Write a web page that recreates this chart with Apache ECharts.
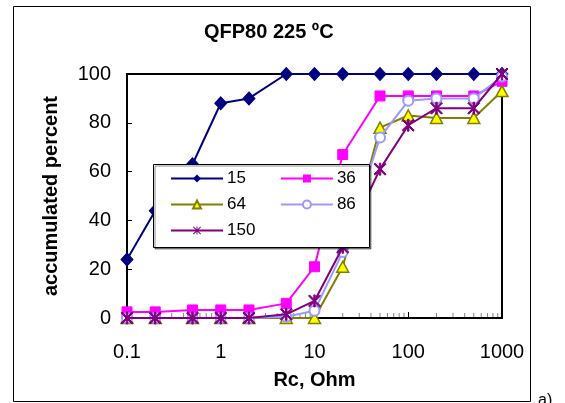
<!DOCTYPE html>
<html>
<head>
<meta charset="utf-8">
<script src="https://cdn.jsdelivr.net/npm/echarts@6/dist/echarts.min.js"></script>
<style>
html,body{margin:0;padding:0;background:#fff;}
#c{width:565px;height:403px;}
</style>
</head>
<body>
<div id="c"></div>
<script>
// ---- data ----
var rc = [0.1, 0.2, 0.5, 1, 2, 5, 10, 20, 50, 100, 200, 500, 1000];
var s15  = [24, 44, 63, 88, 90, 100, 100, 100, 100, 100, 100, 100, 100];
var s36  = [2.5, 2.5, 3.3, 3.3, 3.3, 6, 21, 67, 91, 91, 91, 91, 97];
var s64  = [0, 0, 0, 0, 0, 0, 0, 21, 78, 83, 82, 82, 93];
var s86  = [0, 0, 0, 0, 0, 0.5, 3, 27, 74, 89, 90, 90, 99];
var s150 = [0, 0, 0, 0, 0, 1.5, 7, 29, 61, 79, 86, 86, 100];
var seriesNames = ['15', '36', '64', '86', '150'];
var yTicks = [0, 20, 40, 60, 80, 100];
var xTickLabels = [0.1, 1, 10, 100, 1000];
var xMinorTicks = [0.2,0.3,0.4,0.5,0.6,0.7,0.8,0.9,
                   2,3,4,5,6,7,8,9,
                   20,30,40,50,60,70,80,90,
                   200,300,400,500,600,700,800,900];

var FONT = 'Liberation Sans, Arial, sans-serif';
function pairs(vals){ return rc.map(function(x,i){ return [x, vals[i]]; }); }

var asterisk = 'path://M4.4,0h1.2v10h-1.2z M0,0.85 L0.85,0 L10,9.15 L9.15,10z M9.15,0 L10,0.85 L0.85,10 L0,9.15z';

var chart = echarts.init(document.getElementById('c'), null, {renderer:'canvas'});
var option = {
  backgroundColor: '#fff',
  animation: false,
  title: {
    text: 'QFP80 225 ºC',
    left: 204, top: 22,
    padding: 0,
    textStyle: {fontFamily: FONT, fontSize: 20, fontWeight: 'bold', color: '#000'}
  },
  grid: {
    left: 127, right: 63, top: 74, bottom: 85,
    show: true, borderColor: '#000', borderWidth: 2, backgroundColor: 'transparent'
  },
  xAxis: [{
    type: 'log', logBase: 10, min: 0.1, max: 1000,
    name: 'Rc, Ohm', nameLocation: 'middle', nameGap: 52,
    nameTextStyle: {fontFamily: FONT, fontSize: 20, fontWeight: 'bold', color: '#000'},
    axisLine: {lineStyle: {color: '#000', width: 2}},
    axisTick: {inside: true, length: 6, lineStyle: {color: '#000', width: 1}},
    splitLine: {show: false},
    axisLabel: {
      fontFamily: FONT, fontSize: 20, color: '#000', margin: 24,
      formatter: function(v){ return xTickLabels.indexOf(+v) >= 0 ? String(+v) : ''; }
    }
  }],
  yAxis: [{
    type: 'value', min: yTicks[0], max: yTicks[yTicks.length-1], interval: 20,
    name: 'accumulated percent', nameLocation: 'middle', nameGap: 66,
    nameTextStyle: {fontFamily: FONT, fontSize: 20, fontWeight: 'bold', color: '#000'},
    axisLine: {show: true, lineStyle: {color: '#000', width: 2}},
    axisTick: {show: true, inside: true, length: 5, lineStyle: {color: '#000'}},
    splitLine: {show: false},
    axisLabel: {fontFamily: FONT, fontSize: 20, color: '#000', margin: 16}
  }],
  legend: [
    {data: ['15', '36'], left: 170, top: 170},
    {data: ['64', '86'], left: 170, top: 196},
    {data: ['150'], left: 170, top: 222}
  ].map(function(l){
    return Object.assign({
      orient: 'horizontal', padding: 0, itemGap: 34, itemWidth: 52, itemHeight: 10,
      z: 20, selectedMode: false,
      textStyle: {fontFamily: FONT, fontSize: 17, color: '#000', padding: [0,0,0,-1]}
    }, l);
  }),
  graphic: [
    {type: 'rect', z: 15, shape: {x: 153.5, y: 164.5, width: 216, height: 83},
     style: {fill: '#fff', stroke: '#000', lineWidth: 1,
             shadowColor: 'rgba(0,0,0,0.45)', shadowOffsetX: 1.5, shadowOffsetY: 1.5, shadowBlur: 0}},
    {type: 'rect', z: -1, silent: true, shape: {x: 13.5, y: 6.5, width: 517, height: 395},
     style: {fill: 'none', stroke: '#000', lineWidth: 1}},
    {type: 'text', left: 538, top: 393, z: 5,
     style: {text: 'a)', fontFamily: FONT, fontSize: 16, fill: '#000'}}
  ],
  series: [
    {
      name: 'minor', type: 'scatter', silent: true, legendHoverLink: false,
      data: xMinorTicks.map(function(v){ return [v, 0]; }),
      symbol: 'rect', symbolSize: [1, 4], symbolOffset: [0, -3],
      itemStyle: {color: '#666'}, z: 1, tooltip: {show: false}
    },
    {
      name: '15', type: 'line', data: pairs(s15),
      symbol: 'diamond', symbolSize: [12, 13],
      lineStyle: {color: '#000080', width: 2},
      itemStyle: {color: '#000080', borderColor: '#000080'}, z: 3
    },
    {
      name: '36', type: 'line', data: pairs(s36),
      symbol: 'rect', symbolSize: 10,
      lineStyle: {color: '#FF00FF', width: 2},
      itemStyle: {color: '#FF00FF', borderColor: '#FF00FF'}, z: 4
    },
    {
      name: '64', type: 'line', data: pairs(s64),
      symbol: 'triangle', symbolSize: [12, 11],
      lineStyle: {color: '#808000', width: 2},
      itemStyle: {color: '#FFFF00', borderColor: '#808000', borderWidth: 1.5}, z: 5
    },
    {
      name: '86', type: 'line', data: pairs(s86),
      symbol: 'emptyCircle', symbolSize: 10,
      lineStyle: {color: '#9999FF', width: 2},
      itemStyle: {color: '#9999FF', borderColor: '#9999FF', borderWidth: 1.5}, z: 6
    },
    {
      name: '150', type: 'line', data: pairs(s150),
      symbol: asterisk, symbolSize: 12, symbolKeepAspect: true,
      lineStyle: {color: '#800080', width: 2},
      itemStyle: {color: '#800080', borderColor: '#800080'}, z: 7
    }
  ]
};
option.series.forEach(function(s){ s.emphasis = {disabled: true}; });
chart.setOption(option);
</script>
</body>
</html>
